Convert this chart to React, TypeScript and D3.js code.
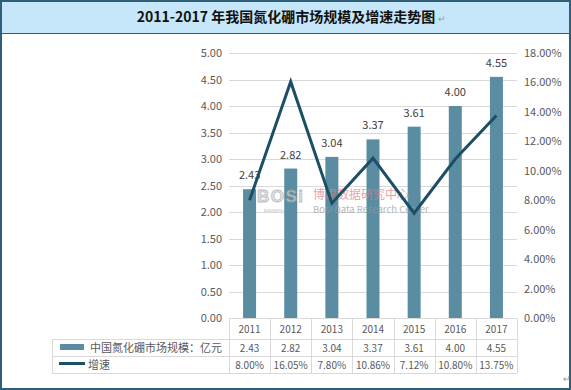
import React, { useRef, useEffect } from 'react';
import * as d3 from 'd3';

const years = ['2011', '2012', '2013', '2014', '2015', '2016', '2017'];
const marketSize = [2.43, 2.82, 3.04, 3.37, 3.61, 4.0, 4.55];
const growth = [8.0, 16.05, 7.8, 10.86, 7.12, 10.8, 13.75];
const leftTicks = [0, 0.5, 1, 1.5, 2, 2.5, 3, 3.5, 4, 4.5, 5];
const rightTicks = [0, 2, 4, 6, 8, 10, 12, 14, 16, 18];
const title = '2011-2017 年我国氮化硼市场规模及增速走势图';
const seriesNames = ['中国氮化硼市场规模：亿元', '增速'];

const W = 571;
const H = 390;
const barColor = '#5a8da2';
const lineColor = '#1c4f65';
const gridColor = '#d9d9d9';
const textColor = '#595959';
const font = '"Noto Sans CJK SC", "Noto Sans", sans-serif';

const App = () => {
  const svgRef = useRef<SVGSVGElement>(null);

  useEffect(() => {
    document.body.style.margin = '0';
    const svg = d3.select(svgRef.current);
    svg.selectAll('*').remove();

    const plot = { left: 229, right: 517, top: 53, bottom: 318 };
    const x = d3.scaleBand().domain(years).range([plot.left, plot.right]);
    const yL = d3.scaleLinear().domain([0, 5]).range([plot.bottom, plot.top]);
    const yR = d3.scaleLinear().domain([0, 18]).range([plot.bottom, plot.top]);
    const barW = 13;

    // frame
    svg.append('rect').attr('x', 0).attr('y', 0).attr('width', W).attr('height', H).attr('fill', '#fff');
    svg.append('rect').attr('x', 1).attr('y', 1).attr('width', W - 2).attr('height', 32).attr('fill', '#c6e6fa');
    svg.append('rect').attr('x', 1).attr('y', 1).attr('width', W - 2).attr('height', H - 2)
      .attr('fill', 'none').attr('stroke', '#2f5f78').attr('stroke-width', 2);
    svg.append('line').attr('x1', 1).attr('x2', W - 1).attr('y1', 33.5).attr('y2', 33.5)
      .attr('stroke', '#2f5f78').attr('stroke-width', 1);
    svg.append('text').attr('x', 286).attr('y', 22).attr('text-anchor', 'middle')
      .attr('font-family', font).attr('font-weight', 'bold').attr('font-size', 14).attr('fill', '#111')
      .text(title);
    svg.append('text').attr('x', 438).attr('y', 22).attr('font-size', 9).attr('fill', '#999')
      .attr('font-family', font).text('↵');
    svg.append('text').attr('x', 563).attr('y', 382).attr('font-size', 9).attr('fill', '#999')
      .attr('font-family', font).text('↵');

    // gridlines
    svg.append('g').selectAll('line').data(leftTicks.slice(1)).join('line')
      .attr('x1', plot.left).attr('x2', plot.right)
      .attr('y1', d => Math.round(yL(d)) + 0.5).attr('y2', d => Math.round(yL(d)) + 0.5)
      .attr('stroke', gridColor);

    // left axis labels
    svg.append('g').selectAll('text').data(leftTicks).join('text')
      .attr('x', 222).attr('y', d => yL(d) + 4).attr('text-anchor', 'end')
      .attr('font-family', font).attr('font-size', 11).attr('fill', textColor)
      .text(d => d3.format('.2f')(d));

    // right axis labels
    svg.append('g').selectAll('text').data(rightTicks).join('text')
      .attr('x', 524).attr('y', d => yR(d) + 4)
      .attr('font-family', font).attr('font-size', 11).attr('fill', textColor)
      .text(d => d3.format('.2f')(d) + '%');

    // bars
    svg.append('g').selectAll('rect').data(marketSize).join('rect')
      .attr('x', (_, i) => x(years[i])! + x.bandwidth() / 2 - barW / 2)
      .attr('y', d => yL(d)).attr('width', barW).attr('height', d => plot.bottom - yL(d))
      .attr('fill', barColor);

    // bar labels
    svg.append('g').selectAll('text').data(marketSize).join('text')
      .attr('x', (_, i) => x(years[i])! + x.bandwidth() / 2)
      .attr('y', d => yL(d) - 10).attr('text-anchor', 'middle')
      .attr('font-family', font).attr('font-size', 11).attr('fill', '#404040')
      .text(d => d3.format('.2f')(d));

    // watermark
    const wm = svg.append('g').attr('opacity', 0.7);
    wm.append('text').attr('x', 257).attr('y', 202).attr('font-family', 'Arial, sans-serif')
      .attr('font-weight', 'bold').attr('font-size', 17).attr('fill', '#d8d8d8').attr('stroke', '#a0a0a0')
      .attr('stroke-width', 0.8).attr('letter-spacing', 1.5).text('BOSi');
    wm.append('text').attr('x', 264).attr('y', 212).attr('font-family', font)
      .attr('font-size', 4).attr('fill', '#888').text('BOSIDATA.COM');
    wm.append('text').attr('x', 313).attr('y', 199).attr('font-family', font)
      .attr('font-size', 12).attr('fill', '#e07c8a').text('博思数据研究中心');
    wm.append('text').attr('x', 313).attr('y', 213).attr('font-family', font)
      .attr('font-size', 9.5).attr('fill', '#999').text('Bosi Data Research Center');

    // line
    const line = d3.line<number>()
      .x((_, i) => x(years[i])! + x.bandwidth() / 2)
      .y(d => yR(d));
    svg.append('path').datum(growth).attr('d', line).attr('fill', 'none')
      .attr('stroke', lineColor).attr('stroke-width', 3).attr('stroke-linejoin', 'miter');

    // data table
    const rows = [318.5, 339.5, 356.5, 373.5];
    const t = svg.append('g').attr('stroke', gridColor).attr('fill', 'none');
    t.append('line').attr('x1', plot.left).attr('x2', plot.right).attr('y1', rows[0]).attr('y2', rows[0]);
    rows.slice(1).forEach(r => {
      t.append('line').attr('x1', 52).attr('x2', plot.right).attr('y1', r).attr('y2', r);
    });
    t.append('line').attr('x1', 52.5).attr('x2', 52.5).attr('y1', rows[1]).attr('y2', rows[3]);
    const cols = years.map(yr => x(yr)!).concat([plot.right]);
    cols.forEach(c => {
      t.append('line').attr('x1', Math.round(c) + 0.5).attr('x2', Math.round(c) + 0.5)
        .attr('y1', rows[0]).attr('y2', rows[3]);
    });

    const cell = (txt: string, cx: number, cy: number) =>
      svg.append('text').attr('x', cx).attr('y', cy).attr('text-anchor', 'middle')
        .attr('font-family', font).attr('font-size', 10).attr('fill', textColor).text(txt);
    years.forEach((yr, i) => {
      const cx = x(yr)! + x.bandwidth() / 2;
      cell(yr, cx, 333);
      cell(d3.format('.2f')(marketSize[i]), cx, 352);
      cell(d3.format('.2f')(growth[i]) + '%', cx, 369);
    });

    // legend
    svg.append('rect').attr('x', 60).attr('y', 344).attr('width', 24).attr('height', 6).attr('fill', barColor);
    svg.append('line').attr('x1', 59).attr('x2', 85).attr('y1', 363.5).attr('y2', 363.5)
      .attr('stroke', lineColor).attr('stroke-width', 3);
    svg.append('text').attr('x', 90).attr('y', 352).attr('font-family', font).attr('font-size', 11)
      .attr('fill', textColor).text(seriesNames[0]);
    svg.append('text').attr('x', 88).attr('y', 369).attr('font-family', font).attr('font-size', 11)
      .attr('fill', textColor).text(seriesNames[1]);
  }, []);

  return (
    <svg ref={svgRef} width={W} height={H} style={{ display: 'block', position: 'absolute', left: 0, top: 0 }} />
  );
};

export default App;
